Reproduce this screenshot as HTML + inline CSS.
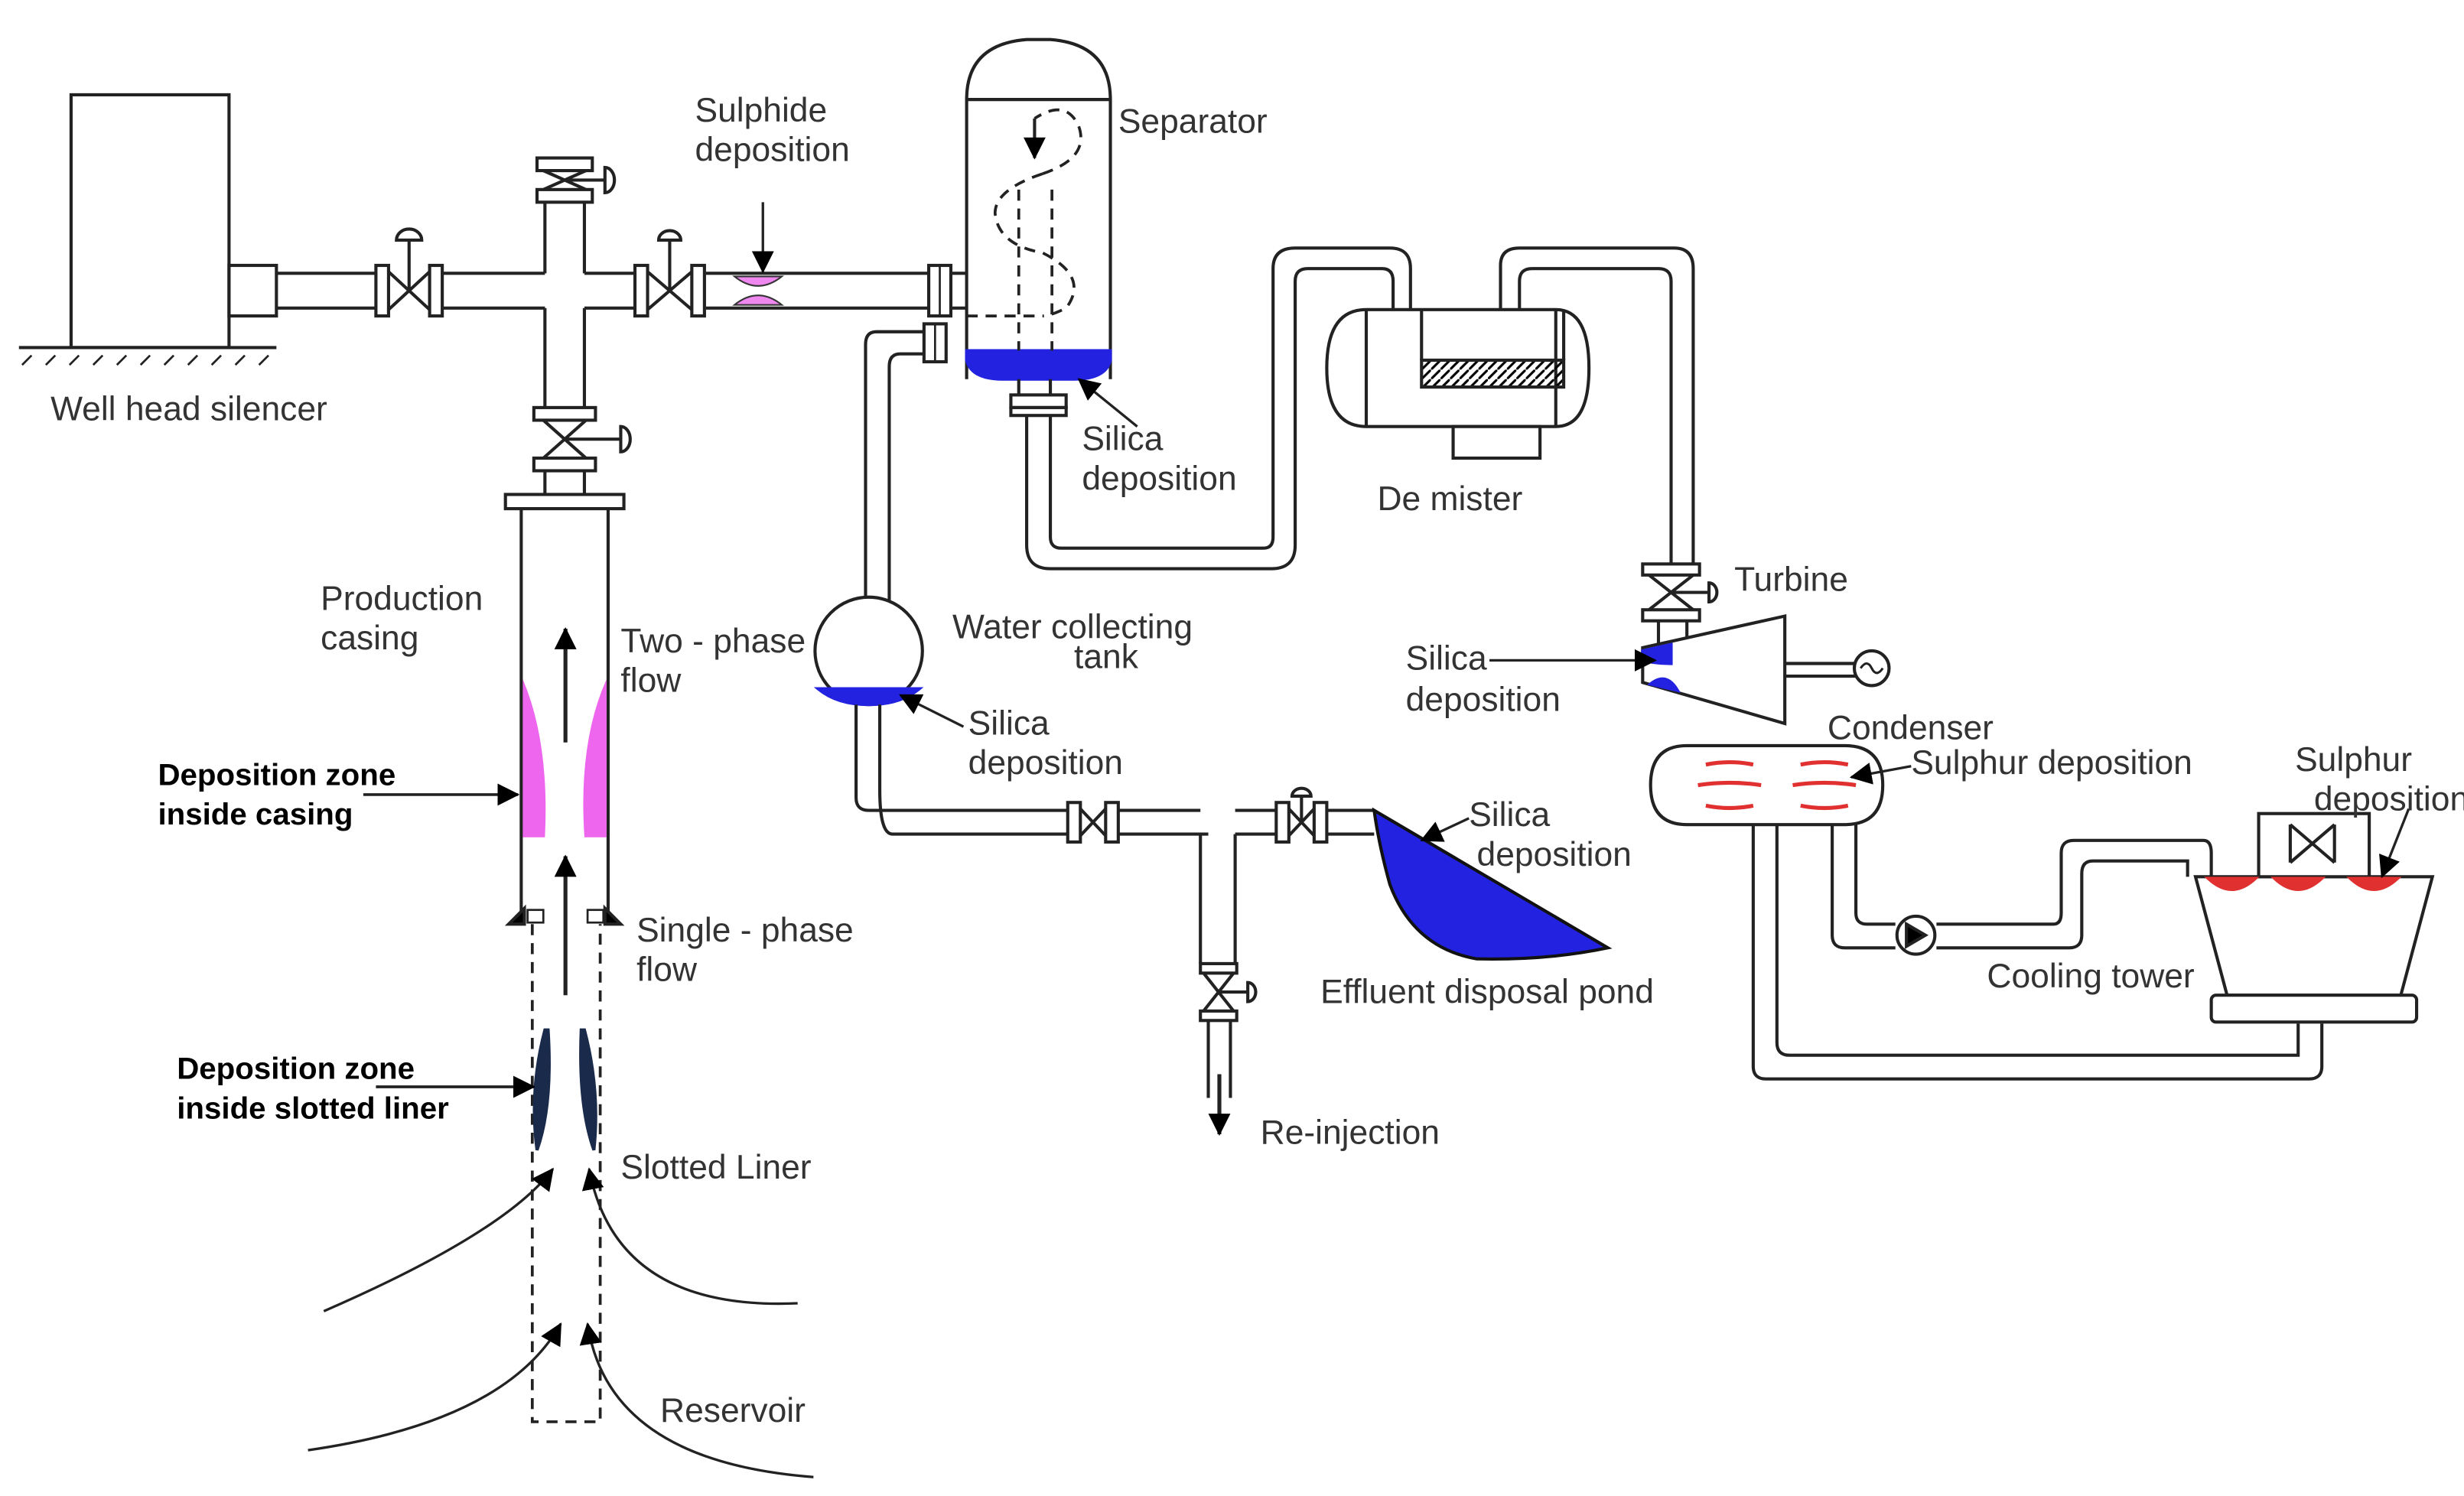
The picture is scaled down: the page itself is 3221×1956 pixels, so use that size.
<!DOCTYPE html>
<html><head><meta charset="utf-8"><style>
html,body{margin:0;padding:0;background:#fff;}
svg{display:block;}
text{font-family:"Liberation Sans",sans-serif;fill:#333;font-size:21.5px;}
.b{font-weight:bold;fill:#000;font-size:19.5px;}
</style></head><body>
<svg width="3221" height="1956" viewBox="0 0 1560 947" preserveAspectRatio="none" xmlns="http://www.w3.org/2000/svg">
<defs>
<marker id="ab" markerWidth="14" markerHeight="14" refX="13" refY="7" orient="auto" markerUnits="userSpaceOnUse"><path d="M0,0 L14,7 L0,14 z" fill="#000"/></marker>
<pattern id="hat" width="6" height="6" patternUnits="userSpaceOnUse"><path d="M0,6 L6,0" stroke="#000" stroke-width="1.5"/></pattern>
</defs>
<g fill="none" stroke="#222" stroke-width="2">
<rect x="45" y="60" width="100" height="160"/>
<path d="M12,220 H175"/>
<path d="M20,225 l-6,6 M35,225 l-6,6 M50,225 l-6,6 M65,225 l-6,6 M80,225 l-6,6 M95,225 l-6,6 M110,225 l-6,6 M125,225 l-6,6 M140,225 l-6,6 M155,225 l-6,6 M170,225 l-6,6" stroke-width="1.3"/>
<rect x="145" y="168" width="30" height="32"/>
<path d="M175,173 H240 M175,195 H240 M280,173 H345 M280,195 H345 M370,173 H403 M370,195 H403 M447,173 H588 M447,195 H588"/>
<rect x="238" y="168" width="8" height="32" fill="#fff"/><rect x="272" y="168" width="8" height="32" fill="#fff"/>
<path d="M246,172 L272,196 M246,196 L272,172 M259,184 V152"/><path d="M251,152 a8,7 0 0 1 16,0 z"/>
<path d="M345,125 V173 M370,125 V173 M345,195 V258 M370,195 V258"/>
<rect x="340" y="100" width="35" height="8" fill="#fff"/><rect x="340" y="120" width="35" height="8" fill="#fff"/>
<path d="M344,108 L371,120 M344,120 L371,108 M358,114 H383"/><path d="M383,106 a6,8 0 0 1 0,16 z"/>
<rect x="338" y="258" width="39" height="8" fill="#fff"/><rect x="338" y="290" width="39" height="8" fill="#fff"/>
<path d="M344,266 L371,290 M344,290 L371,266 M358,278 H393"/><path d="M393,270 a6,8 0 0 1 0,16 z"/>
<path d="M345,298 V313 M370,298 V313"/>
<rect x="402" y="168" width="8" height="32" fill="#fff"/><rect x="438" y="168" width="8" height="32" fill="#fff"/>
<path d="M410,172 L438,196 M410,196 L438,172 M424,184 V152"/><path d="M417,152 a7,6 0 0 1 14,0 z"/>
<rect x="588" y="168" width="14" height="32" fill="#fff"/><path d="M595,168 V200" stroke-width="1.3"/>
<path d="M602,173 H612 M602,195 H612"/>
<rect x="585" y="205" width="14" height="24" fill="#fff"/><path d="M592,205 V229" stroke-width="1.3"/>
<path d="M612,240 V63 Q612,28 650,25 H665 Q703,28 703,63 V240"/>
<path d="M612,63 H703"/>
<path d="M612,222 H703 V228 Q700,240 680,240 H635 Q615,240 612,228 Z" fill="#2222e0" stroke="#2222e0"/>
<path d="M645,240 V250 M665,240 V250"/>
<rect x="640" y="250" width="35" height="8" fill="#fff"/><rect x="640" y="258" width="35" height="5" fill="#fff"/>
<g stroke-dasharray="7,5" stroke-width="1.8">
<path d="M645,120 V222 M666,120 V222"/>
<path d="M612,200 H660"/>
<path d="M660,110 Q630,120 630,135 Q632,155 660,160 Q690,175 675,195 Q665,200 660,200"/>
<path d="M660,110 Q690,100 683,80 Q675,62 655,75"/>
</g>
<path d="M655,75 L655,100" marker-end="url(#ab)"/>
<path d="M585,210 H555 Q548,210 548,218 V380 M585,224 H570 Q563,224 563,232 V380"/>
<circle cx="550" cy="412" r="34" fill="#fff"/>
<path d="M518,436 H582 Q570,446 550,446 Q530,446 518,436 Z" fill="#2222e0" stroke="#2222e0"/>
<path d="M542,446 V505 Q542,513 550,513 H678 M557,446 V500 Q557,528 565,528 H678"/>
<path d="M708,513 H760 M708,528 H765 M782,513 H810 M782,528 H810 M760,528 V610 M782,528 V610 M840,513 H870 M840,528 H870"/>
<rect x="676" y="508" width="8" height="25" fill="#fff"/><rect x="700" y="508" width="8" height="25" fill="#fff"/>
<path d="M684,512 L700,529 M684,529 L700,512"/>
<rect x="808" y="508" width="8" height="25" fill="#fff"/><rect x="832" y="508" width="8" height="25" fill="#fff"/>
<path d="M816,512 L832,529 M816,529 L832,512 M824,520 V504"/><path d="M818,504 a6,5 0 0 1 12,0 z"/>
<rect x="760" y="610" width="23" height="6" fill="#fff"/><rect x="760" y="640" width="23" height="6" fill="#fff"/>
<path d="M762,616 L781,640 M762,640 L781,616 M771,628 H790"/><path d="M790,622 a5,6 0 0 1 0,12 z"/>
<path d="M765,646 V695 M779,646 V695"/>
<path d="M772,680 V718" marker-end="url(#ab)" stroke-width="2.5"/>
<path d="M870,513 L1018,600 Q980,608 935,607 Q895,600 880,560 Q873,535 870,513 Z" fill="#2222e0" stroke="#111"/>
<path d="M650,263 V345 Q650,360 665,360 H805 Q820,360 820,345 V178 Q820,170 828,170 H875 Q882,170 882,178 V197 M665,263 V340 Q665,347 672,347 H800 Q806,347 806,340 V170 Q806,157 820,157 H880 Q893,157 893,170 V197"/>
<path d="M865,196 H985 Q1006,196 1006,233 Q1006,270 985,270 H865 Q840,270 840,233 Q840,196 865,196 Z" fill="#fff"/>
<path d="M865,196 V270 M985,196 V270 M900,196 V228 M990,228 V196"/>
<rect x="900" y="228" width="90" height="17" fill="url(#hat)"/>
<rect x="920" y="270" width="55" height="20" fill="#fff"/>
<path d="M950,196 V168 Q950,157 962,157 H1060 Q1072,157 1072,170 V357 M962,196 V178 Q962,170 970,170 H1050 Q1058,170 1058,178 V357"/>
<rect x="1040" y="357" width="36" height="7" fill="#fff"/><rect x="1040" y="386" width="36" height="7" fill="#fff"/>
<path d="M1044,364 L1072,386 M1044,386 L1072,364 M1058,375 H1082"/><path d="M1082,369 a5,6 0 0 1 0,12 z"/>
<path d="M1050,393 V410 M1068,393 V405"/>
<path d="M1040,410 L1130,390 L1130,458 L1040,432 Z" fill="#fff"/>
<path d="M1040,412 L1058,408 L1058,420 Q1048,420 1040,418 Z" fill="#2222e0" stroke="#2222e0"/>
<path d="M1045,433 Q1055,425 1062,437 Z" fill="#2222e0" stroke="#2222e0"/>
<path d="M1130,420 H1176 M1130,428 H1176"/>
<circle cx="1185" cy="423" r="11" fill="#fff"/><path d="M1178,423 q4,-6 7,0 t7,0" stroke-width="1.5"/>
<path d="M1068,472 H1168 Q1192,472 1192,497 Q1192,522 1168,522 H1068 Q1045,522 1045,497 Q1045,472 1068,472 Z" fill="#fff"/>
<g stroke="#e03030" stroke-width="2.5"><path d="M1080,484 q15,-3 30,0 M1075,497 q20,-3 40,0 M1080,510 q15,3 30,0 M1140,484 q15,-3 30,0 M1135,497 q20,-3 40,0 M1140,510 q15,3 30,0"/></g>
<path d="M1160,522 V592 Q1160,600 1168,600 H1200 M1175,522 V578 Q1175,585 1182,585 H1200 M1226,585 H1300 Q1305,585 1305,578 V540 Q1305,532 1313,532 H1395 Q1400,532 1400,540 V555 M1226,600 H1310 Q1318,600 1318,592 V553 Q1318,545 1325,545 H1385 V555"/>
<circle cx="1213" cy="592" r="12" fill="#fff"/><path d="M1207,585 L1219,592 L1207,599 Z" fill="#000"/>
<path d="M1110,522 V675 Q1110,683 1118,683 H1462 Q1470,683 1470,675 V648 M1125,522 V660 Q1125,668 1133,668 H1455 V648"/>
<path d="M1390,555 H1540 L1520,630 H1410 Z" fill="#fff"/>
<rect x="1400" y="630" width="130" height="17" rx="3" fill="#fff"/>
<rect x="1430" y="515" width="70" height="40" fill="#fff"/>
<path d="M1450,522 L1478,546 M1450,546 L1478,522 M1450,522 V546 M1478,522 V546"/>
<path d="M1398,556 Q1413,570 1428,556 Z M1440,556 Q1455,570 1470,556 Z M1488,556 Q1503,570 1518,556 Z" fill="#e03030" stroke="#e03030"/>
<rect x="320" y="313" width="75" height="9" fill="#fff"/>
<path d="M330,322 V585 M385,322 V585"/>
<path d="M331,430 Q348,470 345,530 H331 Z" fill="#ee66ee" stroke="none"/>
<path d="M384,430 Q366,470 370,530 H384 Z" fill="#ee66ee" stroke="none"/>
<path d="M322,585 L332,575 V585 Z M393,585 L383,575 V585 Z" fill="#000"/>
<rect x="334" y="576" width="10" height="8" stroke-width="1.3"/><rect x="372" y="576" width="10" height="8" stroke-width="1.3"/>
<path d="M358,470 V398" marker-end="url(#ab)" stroke-width="2.5"/>
<path d="M358,630 V542" marker-end="url(#ab)" stroke-width="2.5"/>
<path d="M337,585 V900 H380 V585" stroke-dasharray="7,5" stroke-width="1.8"/>
<path d="M345,652 Q335,690 340,728 Q350,700 347,652 Z" fill="#1a2a4a" stroke="#1a2a4a"/>
<path d="M370,652 Q380,690 376,728 Q366,700 368,652 Z" fill="#1a2a4a" stroke="#1a2a4a"/>
<path d="M205,830 Q320,780 350,740" marker-end="url(#ab)" stroke-width="1.6"/>
<path d="M505,825 Q390,830 373,740" marker-end="url(#ab)" stroke-width="1.6"/>
<path d="M195,918 Q320,900 355,838" marker-end="url(#ab)" stroke-width="1.6"/>
<path d="M515,935 Q385,925 372,838" marker-end="url(#ab)" stroke-width="1.6"/>
<path d="M483,128 V172" marker-end="url(#ab)" stroke-width="1.6"/>
<path d="M720,270 L683,240" marker-end="url(#ab)" stroke-width="1.6"/>
<path d="M610,460 L570,440" marker-end="url(#ab)" stroke-width="1.6"/>
<path d="M930,518 L900,532" marker-end="url(#ab)" stroke-width="1.6"/>
<path d="M943,418 L1048,418" marker-end="url(#ab)" stroke-width="1.6"/>
<path d="M1210,485 L1172,492" marker-end="url(#ab)" stroke-width="1.6"/>
<path d="M1525,512 L1508,555" marker-end="url(#ab)" stroke-width="1.6"/>
<path d="M230,503 H328" marker-end="url(#ab)" stroke-width="1.8"/>
<path d="M238,688 H338" marker-end="url(#ab)" stroke-width="1.8"/>
</g>
<path d="M465,175 Q480,187 495,175 Z M465,193 Q480,181 495,193 Z" fill="#ee88ee" stroke="#333" stroke-width="1"/>
<text x="32" y="266">Well head silencer</text>
<text x="440" y="77">Sulphide</text><text x="440" y="102">deposition</text>
<text x="708" y="84">Separator</text>
<text x="685" y="285">Silica</text><text x="685" y="310">deposition</text>
<text x="872" y="323">De mister</text>
<text x="1098" y="374">Turbine</text>
<text x="890" y="424">Silica</text><text x="890" y="450">deposition</text>
<text x="603" y="404">Water collecting</text><text x="680" y="423">tank</text>
<text x="613" y="465">Silica</text><text x="613" y="490">deposition</text>
<text x="203" y="386">Production</text><text x="203" y="411">casing</text>
<text x="393" y="413">Two - phase</text><text x="393" y="438">flow</text>
<text x="403" y="596">Single - phase</text><text x="403" y="621">flow</text>
<text x="393" y="746">Slotted Liner</text>
<text x="418" y="900">Reservoir</text>
<text x="798" y="724">Re-injection</text>
<text x="836" y="635">Effluent disposal pond</text>
<text x="930" y="523">Silica</text><text x="935" y="548">deposition</text>
<text x="1157" y="468">Condenser</text>
<text x="1210" y="490">Sulphur deposition</text>
<text x="1453" y="488">Sulphur</text><text x="1465" y="513">deposition</text>
<text x="1258" y="625">Cooling tower</text>
<text class="b" x="100" y="497">Deposition zone</text><text class="b" x="100" y="522">inside casing</text>
<text class="b" x="112" y="683">Deposition zone</text><text class="b" x="112" y="708">inside slotted liner</text>
</svg>
</body></html>
